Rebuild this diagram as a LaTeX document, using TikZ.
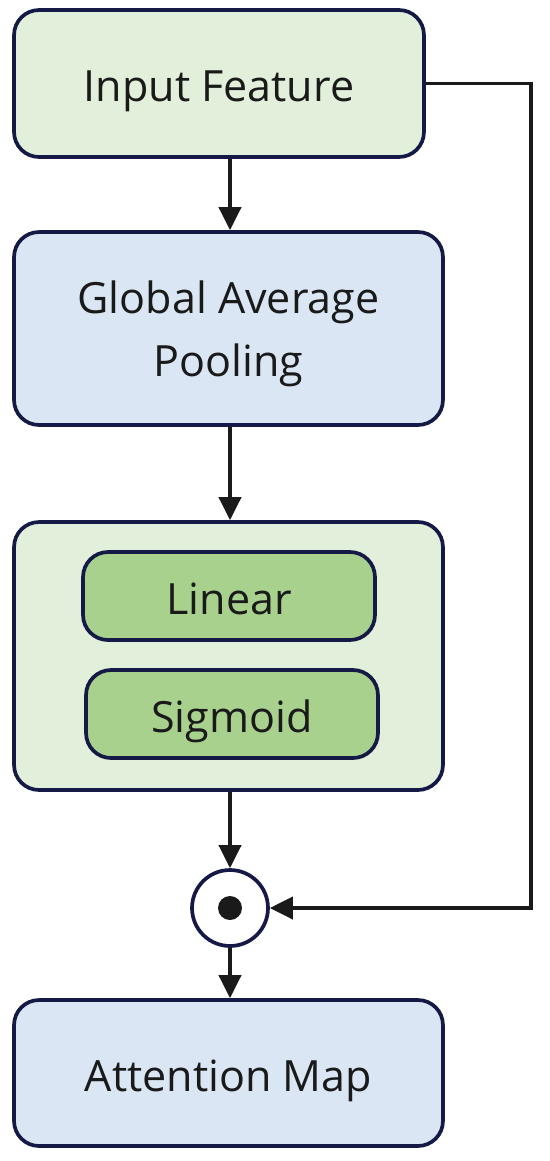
\documentclass[tikz,border=0pt]{standalone}
\usepackage{fontspec}
\setmainfont{Open Sans}
\usetikzlibrary{arrows.meta}

\definecolor{edge}{HTML}{141A45}
\definecolor{paleGreen}{HTML}{E2EFDA}
\definecolor{paleBlue}{HTML}{DAE6F3}
\definecolor{midGreen}{HTML}{A9D18E}
\definecolor{ink}{HTML}{1A1A1A}

\tikzset{
  block/.style={draw=edge, line width=2.1pt, rounded corners=0.5cm, align=center,
    font=\fontsize{24.5}{36}\selectfont, text=ink, inner sep=0pt},
  oneline/.style={text height=21pt, text depth=0pt},
  inblock/.style={block, oneline, fill=midGreen, minimum width=5.84cm, minimum height=1.76cm},
  flow/.style={draw=ink, line width=2.2pt, -{Triangle[length=0.46cm,width=0.44cm]}}
}

\begin{document}
\begin{tikzpicture}[x=0.02cm, y=-0.02cm]
  \useasboundingbox (0,0) rectangle (550,1161);
  % main column
  \node[block, oneline, fill=paleGreen, minimum width=8.2cm, minimum height=2.94cm] (inp) at (219,83.5) {Input Feature};
  \node[block, text depth=0pt, fill=paleBlue, minimum width=8.58cm, minimum height=3.86cm] (gap) at (228.5,328.5) {Global Average\\Pooling};
  \node[block, fill=paleGreen, minimum width=8.58cm, minimum height=5.36cm] (fc) at (228.5,656) {};
  \node[inblock] (lin) at (229,596) {Linear};
  \node[inblock] (sig) at (232,714) {Sigmoid};
  \node[circle, draw=edge, fill=white, line width=2.1pt, minimum size=1.52cm, inner sep=0pt] (mul) at (230,908) {};
  \fill[ink] (mul.center) circle (0.24cm);
  \node[block, oneline, fill=paleBlue, minimum width=8.58cm, minimum height=2.92cm] (att) at (228.5,1073) {Attention Map};
  % arrows
  \draw[flow] (inp.south -| mul.center) -- (gap.north -| mul.center);
  \draw[flow] (gap.south -| mul.center) -- (fc.north -| mul.center);
  \draw[flow] (fc.south -| mul.center) -- (mul.north);
  \draw[flow] (mul.south) -- (att.north -| mul.center);
  % skip path
  \coordinate (turn) at (531,83.5);
  \draw[flow] (inp.east) -- (turn) |- (mul.east);
\end{tikzpicture}
\end{document}
